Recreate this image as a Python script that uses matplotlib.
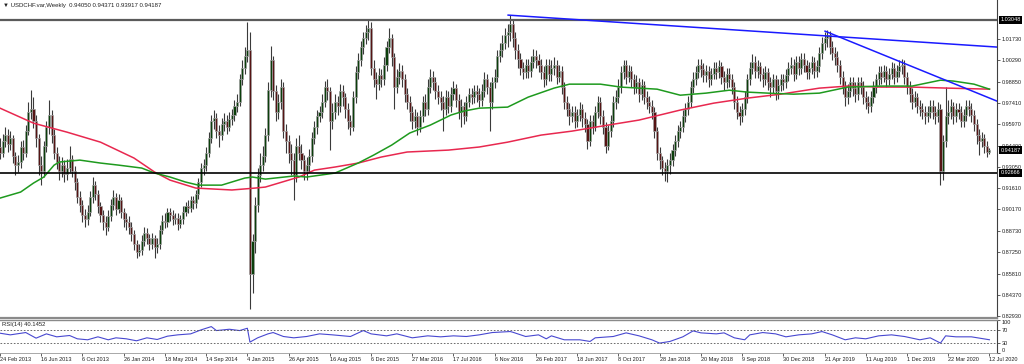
import numpy as np
import matplotlib
matplotlib.use("Agg")
import matplotlib.pyplot as plt

plt.rcParams['font.family'] = ['Liberation Sans', 'DejaVu Sans']

# ---------------- data (weekly USDCHF, index 0 = 24 Feb 2013) ----------------
first_open = 0.944
closes = [
 0.940,0.948,0.952,0.946,0.950,0.938,0.932,0.934,0.944,0.940,
 0.955,0.968,0.970,0.962,0.950,0.932,0.928,0.945,0.958,0.966,
 0.952,0.940,0.934,0.928,0.932,0.926,0.930,0.936,0.928,0.920,
 0.910,0.905,0.898,0.895,0.900,0.910,0.918,0.912,0.904,0.898,
 0.893,0.890,0.897,0.905,0.910,0.902,0.908,0.900,0.895,0.893,
 0.890,0.885,0.878,0.873,0.874,0.880,0.886,0.882,0.878,0.882,
 0.876,0.878,0.888,0.894,0.893,0.900,0.898,0.895,0.896,0.892,
 0.895,0.900,0.904,0.903,0.908,0.906,0.912,0.920,0.930,0.932,
 0.940,0.950,0.962,0.964,0.955,0.952,0.960,0.962,0.958,0.963,
 0.966,0.972,0.975,0.990,0.998,1.006,1.010,0.858,0.880,0.905,
 0.925,0.932,0.938,0.952,0.983,1.003,0.982,0.968,0.975,0.985,
 0.955,0.948,0.940,0.935,0.925,0.945,0.940,0.935,0.928,0.932,
 0.938,0.950,0.958,0.965,0.968,0.975,0.985,0.982,0.962,0.968,
 0.975,0.972,0.982,0.978,0.970,0.962,0.958,0.978,0.995,1.003,
 1.012,1.018,1.022,1.025,0.998,0.990,0.987,0.993,0.990,1.000,
 1.012,1.018,1.005,0.985,0.992,0.996,0.990,0.980,0.975,0.968,
 0.962,0.965,0.958,0.965,0.975,0.970,0.985,0.992,0.988,0.982,
 0.978,0.975,0.970,0.978,0.972,0.980,0.984,0.976,0.968,0.972,
 0.965,0.975,0.980,0.978,0.982,0.980,0.976,0.982,0.990,0.985,
 0.975,0.988,0.992,1.006,1.010,1.015,1.020,1.022,1.028,1.018,
 1.010,1.004,0.998,0.995,1.000,0.996,1.002,1.006,1.003,1.000,
 0.995,0.990,1.000,0.994,0.998,1.000,0.992,0.996,0.985,0.975,
 0.970,0.965,0.968,0.962,0.966,0.970,0.964,0.960,0.948,0.962,
 0.958,0.968,0.975,0.965,0.958,0.945,0.955,0.962,0.975,0.978,
 0.985,0.995,1.000,0.992,0.996,0.990,0.985,0.988,0.980,0.986,
 0.978,0.975,0.972,0.968,0.955,0.940,0.935,0.930,0.928,0.932,
 0.935,0.942,0.948,0.955,0.958,0.965,0.970,0.975,0.985,0.990,
 0.995,1.000,0.997,0.993,0.996,0.990,0.994,0.998,0.995,0.999,
 0.992,0.988,0.994,0.990,0.985,0.975,0.968,0.965,0.970,0.978,
 0.990,0.998,1.002,0.996,0.999,0.994,0.990,0.995,0.988,0.985,
 0.990,0.982,0.986,0.990,0.988,0.993,0.998,1.000,0.994,1.002,
 0.998,1.004,1.000,0.995,0.998,1.002,0.996,0.999,1.008,1.015,
 1.018,1.020,1.012,1.008,1.005,1.000,0.992,0.985,0.978,0.982,
 0.988,0.984,0.980,0.988,0.985,0.978,0.975,0.972,0.978,0.985,
 0.990,0.995,0.992,0.996,0.990,0.994,0.998,0.992,0.996,0.999,
 1.000,0.992,0.985,0.980,0.975,0.978,0.972,0.970,0.968,0.965,
 0.968,0.972,0.968,0.965,0.970,0.928,0.948,0.965,0.968,0.972,
 0.965,0.970,0.968,0.962,0.966,0.972,0.970,0.966,0.960,0.952,
 0.948,0.950,0.945,0.9405,0.94187]
highs = [
 0.950,0.953,0.958,0.956,0.955,0.952,0.941,0.939,0.948,0.949,
 0.959,0.975,0.983,0.978,0.966,0.953,0.938,0.948,0.962,0.976,
 0.969,0.956,0.944,0.938,0.937,0.935,0.936,0.945,0.939,0.931,
 0.923,0.914,0.908,0.902,0.905,0.914,0.924,0.921,0.915,0.907,
 0.901,0.897,0.901,0.909,0.915,0.913,0.912,0.910,0.903,0.899,
 0.897,0.893,0.888,0.881,0.878,0.884,0.890,0.889,0.885,0.886,
 0.884,0.882,0.891,0.898,0.899,0.903,0.903,0.901,0.899,0.899,
 0.898,0.904,0.907,0.908,0.911,0.911,0.915,0.923,0.933,0.936,
 0.944,0.954,0.966,0.969,0.967,0.959,0.964,0.967,0.966,0.968,
 0.970,0.976,0.980,0.994,1.003,1.012,1.029,1.022,0.885,0.910,
 0.930,0.940,0.945,0.957,0.988,1.013,1.006,0.986,0.980,0.990,
 0.988,0.960,0.952,0.946,0.940,0.950,0.952,0.946,0.939,0.937,
 0.943,0.954,0.962,0.969,0.972,0.980,0.989,0.990,0.985,0.974,
 0.980,0.979,0.987,0.986,0.981,0.974,0.966,0.982,0.999,1.008,
 1.016,1.022,1.027,1.031,1.029,1.003,0.995,0.998,0.997,1.005,
 1.016,1.025,1.021,1.008,0.997,1.001,1.000,0.994,0.984,0.979,
 0.972,0.970,0.968,0.969,0.979,0.980,0.990,0.997,0.996,0.992,
 0.986,0.982,0.979,0.983,0.982,0.985,0.989,0.987,0.980,0.977,
 0.975,0.979,0.984,0.984,0.986,0.986,0.984,0.987,0.995,0.994,
 0.988,0.992,0.997,1.010,1.015,1.020,1.025,1.028,1.034,1.031,
 1.022,1.014,1.008,1.002,1.004,1.004,1.006,1.011,1.010,1.007,
 1.004,0.999,1.004,1.004,1.003,1.005,1.003,1.000,0.999,0.988,
 0.979,0.974,0.972,0.972,0.970,0.975,0.973,0.968,0.963,0.966,
 0.966,0.972,0.979,0.978,0.969,0.961,0.959,0.966,0.979,0.983,
 0.990,0.999,1.003,1.003,1.000,0.999,0.994,0.993,0.991,0.990,
 0.989,0.982,0.979,0.976,0.971,0.958,0.944,0.938,0.934,0.936,
 0.940,0.946,0.952,0.959,0.962,0.969,0.974,0.979,0.989,0.995,
 0.999,1.004,1.004,1.001,1.000,0.999,0.998,1.002,1.002,1.003,
 1.002,0.996,0.998,0.998,0.994,0.988,0.979,0.972,0.974,0.982,
 0.994,1.002,1.007,1.006,1.003,1.002,0.998,0.999,0.998,0.992,
 0.994,0.993,0.990,0.994,0.994,0.997,1.002,1.005,1.004,1.006,
 1.006,1.008,1.008,1.003,1.002,1.006,1.005,1.003,1.012,1.019,
 1.022,1.0235,1.023,1.016,1.012,1.009,1.003,0.996,0.989,0.987,
 0.992,0.992,0.988,0.992,0.992,0.989,0.982,0.979,0.982,0.989,
 0.994,0.999,0.999,1.000,0.999,0.998,1.002,1.001,1.000,1.003,
 1.004,1.003,0.995,0.989,0.984,0.982,0.981,0.976,0.974,0.972,
 0.972,0.976,0.976,0.972,0.975,0.973,0.952,0.985,0.976,0.977,
 0.975,0.974,0.974,0.972,0.970,0.976,0.976,0.974,0.969,0.963,
 0.956,0.954,0.953,0.948,0.94371]
lows = [
 0.936,0.937,0.944,0.941,0.942,0.933,0.925,0.927,0.930,0.935,
 0.937,0.952,0.963,0.957,0.944,0.925,0.918,0.924,0.941,0.953,
 0.947,0.936,0.929,0.922,0.924,0.920,0.922,0.927,0.924,0.915,
 0.906,0.900,0.893,0.890,0.891,0.897,0.906,0.908,0.899,0.893,
 0.888,0.884,0.887,0.894,0.901,0.898,0.899,0.896,0.890,0.888,
 0.885,0.880,0.874,0.869,0.870,0.871,0.877,0.878,0.874,0.875,
 0.869,0.872,0.875,0.885,0.889,0.890,0.894,0.891,0.892,0.888,
 0.889,0.892,0.897,0.899,0.900,0.902,0.903,0.909,0.917,0.925,
 0.928,0.937,0.947,0.956,0.950,0.944,0.949,0.955,0.953,0.955,
 0.959,0.962,0.968,0.972,0.986,0.994,1.002,0.834,0.845,0.872,
 0.900,0.920,0.928,0.934,0.948,0.978,0.976,0.962,0.963,0.970,
 0.950,0.940,0.933,0.925,0.908,0.920,0.935,0.929,0.922,0.922,
 0.927,0.934,0.946,0.953,0.961,0.964,0.971,0.976,0.942,0.956,
 0.963,0.966,0.968,0.972,0.964,0.956,0.952,0.955,0.974,0.990,
 0.999,1.007,1.014,1.017,0.993,0.985,0.977,0.983,0.985,0.986,
 0.996,1.008,0.999,0.970,0.981,0.987,0.985,0.975,0.970,0.962,
 0.956,0.957,0.952,0.954,0.961,0.965,0.966,0.981,0.983,0.977,
 0.973,0.969,0.955,0.966,0.967,0.968,0.976,0.971,0.963,0.958,
 0.960,0.962,0.971,0.973,0.974,0.975,0.971,0.972,0.978,0.980,
 0.955,0.970,0.984,0.988,1.002,1.005,1.011,1.012,1.016,1.012,
 1.004,0.998,0.993,0.990,0.991,0.991,0.992,0.998,0.998,0.995,
 0.990,0.985,0.986,0.989,0.989,0.993,0.987,0.988,0.980,0.970,
 0.965,0.959,0.961,0.957,0.958,0.962,0.958,0.954,0.943,0.945,
 0.953,0.955,0.964,0.960,0.953,0.940,0.942,0.951,0.958,0.970,
 0.974,0.981,0.990,0.987,0.988,0.985,0.980,0.981,0.975,0.976,
 0.973,0.970,0.967,0.963,0.950,0.935,0.929,0.925,0.921,0.920,
 0.926,0.931,0.938,0.944,0.950,0.954,0.961,0.966,0.971,0.981,
 0.986,0.991,0.992,0.988,0.988,0.985,0.986,0.990,0.990,0.991,
 0.987,0.983,0.984,0.985,0.980,0.970,0.963,0.959,0.961,0.966,
 0.974,0.986,0.994,0.991,0.991,0.989,0.985,0.986,0.983,0.978,
 0.981,0.976,0.977,0.982,0.983,0.984,0.989,0.994,0.989,0.990,
 0.993,0.994,0.995,0.990,0.990,0.994,0.991,0.992,0.995,1.004,
 1.010,1.012,1.007,1.003,1.000,0.995,0.987,0.980,0.972,0.973,
 0.978,0.979,0.975,0.976,0.980,0.973,0.970,0.967,0.968,0.974,
 0.981,0.986,0.987,0.988,0.985,0.986,0.990,0.987,0.988,0.992,
 0.994,0.987,0.980,0.975,0.970,0.971,0.967,0.965,0.963,0.960,
 0.961,0.964,0.963,0.960,0.961,0.918,0.922,0.944,0.960,0.963,
 0.960,0.961,0.963,0.958,0.958,0.962,0.965,0.961,0.955,0.946,
 0.939,0.944,0.940,0.937,0.93917]

# moving averages, read at sample bars
green_idx = [0,8,13,17,21,23,31,39,46,55,60,66,72,77,86,95,98,103,114,119,130,139,145,152,159,167,175,180,186,197,205,215,221,233,241,248,255,264,274,283,290,298,308,318,329,342,354,365,370,378,384]
green_val = [0.9094,0.9135,0.9196,0.9237,0.9318,0.9339,0.9352,0.9332,0.9318,0.9298,0.9264,0.9237,0.9203,0.9182,0.9182,0.9230,0.9237,0.9223,0.9244,0.9237,0.9264,0.9332,0.9386,0.9454,0.9536,0.9590,0.9658,0.9685,0.9705,0.9712,0.9780,0.9841,0.9868,0.9868,0.9848,0.9841,0.9834,0.9793,0.9807,0.9827,0.9814,0.9807,0.9800,0.9807,0.9848,0.9855,0.9855,0.9895,0.9889,0.9868,0.9834]
red_idx = [0,13,26,39,52,60,66,76,90,99,103,116,122,130,139,148,158,174,186,197,210,222,236,248,264,277,290,303,318,329,342,354,368,384]
red_val = [0.9705,0.9603,0.9542,0.9474,0.9366,0.9271,0.9216,0.9162,0.9149,0.9162,0.9169,0.9237,0.9284,0.9305,0.9332,0.9373,0.9407,0.9420,0.9441,0.9474,0.9522,0.9549,0.9590,0.9624,0.9692,0.9739,0.9773,0.9800,0.9841,0.9855,0.9848,0.9848,0.9841,0.9834]

# RSI(14), read at sample bars
rsi_idx = [0,4,10,14,18,22,27,30,34,38,42,45,49,53,57,61,65,69,74,78,82,84,89,93,96,97,100,104,106,110,114,119,124,129,136,141,144,150,154,160,166,171,176,181,186,191,198,199,204,209,212,214,219,225,229,231,238,243,248,253,256,260,265,269,272,278,281,285,289,291,296,301,305,310,315,319,323,328,332,336,341,346,351,357,361,365,367,371,377,384]
rsi_val = [60,55,62,45,58,49,53,43,40,49,40,46,43,37,46,41,51,55,58,70,80,68,72,68,75,33,46,58,62,50,46,50,58,55,50,68,58,52,58,46,52,49,52,50,55,62,65,63,50,55,43,52,40,40,35,46,50,61,52,40,30,35,49,67,61,58,61,46,40,55,62,58,49,55,58,65,55,40,46,43,52,55,50,40,46,30,52,49,49,40.1452]

# drawn objects
levels = [1.03048, 0.92666]
tl1_idx, tl1_val = [197.2, 386.9], [1.0337, 1.0120]
tl2_idx, tl2_val = [320.2, 386.9], [1.0228, 0.9753]
price_ticks = [1.01730, 1.00290, 0.98850, 0.97410, 0.95970, 0.94490, 0.93050,
               0.91610, 0.90170, 0.88730, 0.87250, 0.85810, 0.84370, 0.82930]
boxed = [1.03048, 0.94187, 0.92666]
date_labels = ["24 Feb 2013", "16 Jun 2013", "6 Oct 2013", "26 Jan 2014", "18 May 2014",
               "14 Sep 2014", "4 Jan 2015", "26 Apr 2015", "16 Aug 2015", "6 Dec 2015",
               "27 Mar 2016", "17 Jul 2016", "6 Nov 2016", "26 Feb 2017", "18 Jun 2017",
               "8 Oct 2017", "28 Jan 2018", "20 May 2018", "9 Sep 2018", "30 Dec 2018",
               "21 Apr 2019", "11 Aug 2019", "1 Dec 2019", "22 Mar 2020", "12 Jul 2020"]
date_step = 16
title = "USDCHF.var,Weekly  0.94050 0.94371 0.93917 0.94187"
rsi_title = "RSI(14) 40.1452"

# ---------------- figure ----------------
W, H = 1024, 364
fig = plt.figure(figsize=(W / 100, H / 100), dpi=100)
fig.patch.set_facecolor('white')
ax = fig.add_axes([0, 46 / H, 997 / W, 318 / H])
axr = fig.add_axes([0, 11 / H, 997 / W, 33 / H], sharex=ax)

c = np.array(closes)
o = np.concatenate([[first_open], c[:-1]])
hi = np.maximum(np.array(highs), np.maximum(o, c))
lo = np.minimum(np.array(lows), np.minimum(o, c))
idx = np.arange(len(c))
bull = c >= o

ax.vlines(idx, lo, hi, color='#3a3a3a', lw=0.8, zorder=2)
body_bottom = np.minimum(o, c)
body_h = np.maximum(np.abs(c - o), 0.0005)
ax.bar(idx, body_h, bottom=body_bottom, width=0.8,
       color=np.where(bull, '#0b3f0b', '#561414'),
       edgecolor='#a0a0a0', linewidth=0.5, zorder=3)

ax.plot(red_idx, red_val, color='#e8284f', lw=1.1, zorder=4)
ax.plot(green_idx, green_val, color='#1e9a1e', lw=1.1, zorder=4)
ax.axhline(levels[0], color='#5a5a5a', lw=1.6, zorder=5)
ax.axhline(levels[1], color='black', lw=1.2, zorder=5)
ax.plot(tl1_idx, tl1_val, color='#1a1aff', lw=1.1, zorder=5)
ax.plot(tl2_idx, tl2_val, color='#1a1aff', lw=1.1, zorder=5)

xmin, xmax = 0.19, 386.93
ax.set_xlim(xmin, xmax)
ax.set_ylim(0.82794, 1.04397)

for s in ['left', 'top']:
    ax.spines[s].set_visible(False)
ax.spines['right'].set_color('#404040')
ax.spines['right'].set_linewidth(0.8)
ax.spines['bottom'].set_color('#8a8a8a')
ax.spines['bottom'].set_linewidth(1.6)

ax.yaxis.tick_right()
ax.set_yticks(price_ticks)
ax.set_yticklabels(["%.5f" % v for v in price_ticks])
ax.tick_params(axis='y', which='both', right=True, left=False, labelright=True,
               labelleft=False, length=2, width=0.5, pad=1.5, labelsize=4, colors='#202020')
ax.tick_params(axis='x', bottom=False, labelbottom=False)

for v in boxed:
    ax.text(1.0035, v, "%.5f" % v, transform=ax.get_yaxis_transform(), fontsize=4,
            color='white', va='center', ha='left', clip_on=False, zorder=10,
            bbox=dict(boxstyle='square,pad=0.25', fc='black', ec='none'))

fig.text(3 / W, 1 - 5.5 / H, "\u25bc " + title, fontsize=4.3, va='center', ha='left',
         color='#202020', family=['Liberation Sans', 'DejaVu Sans'])

# ---------------- RSI ----------------
axr.plot(rsi_idx, rsi_val, color='#4848d0', lw=0.8)
axr.axhline(70, color='#555555', lw=0.6, ls=(0, (2, 2)))
axr.axhline(30, color='#555555', lw=0.6, ls=(0, (2, 2)))
axr.set_ylim(0, 100)
axr.set_xlim(xmin, xmax)
axr.spines['left'].set_visible(False)
axr.spines['top'].set_color('#8a8a8a')
axr.spines['top'].set_linewidth(1.0)
axr.spines['right'].set_color('#404040')
axr.spines['right'].set_linewidth(0.8)
axr.spines['bottom'].set_color('#9a9a9a')
axr.spines['bottom'].set_linewidth(0.6)
axr.yaxis.tick_right()
axr.set_yticks([100, 70, 30, 0])
axr.set_yticklabels(['100', '70', '30', '0'])
axr.tick_params(axis='y', right=True, left=False, labelright=True, labelleft=False,
                length=2, width=0.5, pad=1.5, labelsize=4, colors='#202020')
ylabs = axr.get_yticklabels()
ylabs[0].set_va('top')
ylabs[-1].set_va('bottom')
axr.text(0.002, 0.86, rsi_title, transform=axr.transAxes, fontsize=4.2,
         va='center', ha='left', color='#202020')

date_pos = [k * date_step for k in range(len(date_labels))]
axr.set_xticks(date_pos)
axr.set_xticklabels(date_labels, ha='left')
axr.tick_params(axis='x', length=2, width=0.5, pad=1, labelsize=4, colors='#202020')

fig.savefig('out.png', dpi=100, facecolor='white')
